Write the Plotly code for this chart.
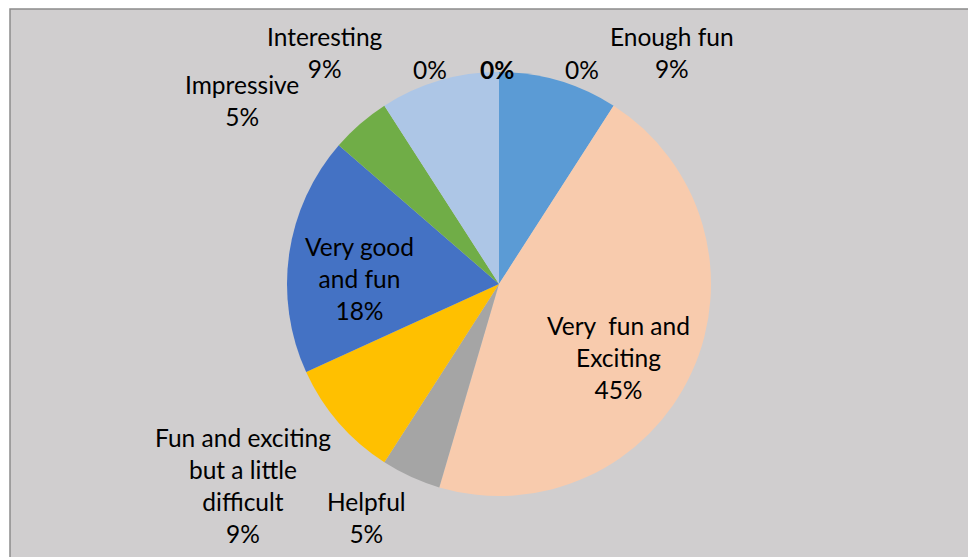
import plotly.graph_objects as go

# ---- data ----
categories = ["Enough fun", "Very fun and Exciting", "Helpful",
              "Fun and exciting but a little difficult", "Very good and fun",
              "Impressive", "Interesting", "Blank A", "Blank B", "Blank C"]
counts = [2, 10, 1, 2, 4, 1, 2, 0, 0, 0]
display_labels = ["Enough fun", "Very\u00a0 fun and<br>Exciting", "Helpful",
                  "Fun and exciting<br>but a little<br>difficult", "Very good<br>and fun",
                  "Impressive", "Interesting", "", "", ""]
colors = ["#5b9bd5", "#f8cbad", "#a5a5a5", "#ffc000", "#4472c4",
          "#70ad47", "#adc6e6", "#5b9bd5", "#f8cbad", "#a5a5a5"]

total = sum(counts)
pcts = [f"{round(100 * c / total)}%" for c in counts]

# page has an 8px body margin; figure sits at (8, 8)
OFF = 8
W, H = 968, 549
FONT = "Lato, Calibri, Carlito, sans-serif"


def px_x(X):
    return (X - OFF) / W


def px_y(Y):
    return 1 - (Y - OFF) / H


fig = go.Figure()
fig.add_trace(go.Pie(
    labels=categories, values=counts, sort=False, direction="clockwise",
    rotation=0, textinfo="none", showlegend=False,
    marker=dict(colors=colors, line=dict(width=0)),
    domain=dict(x=[px_x(287), px_x(711)], y=[px_y(496), px_y(72)]),
))

# label positions (pixel centers in the page)
label_pos = [(672, 53), (618, 357), (366, 517), (243, 485), (359, 278),
             (242, 101), (325, 53), (582, 70), (497, 70), (430, 70)]

annotations = []
for i, (X, Y) in enumerate(label_pos):
    txt = display_labels[i]
    pct = pcts[i]
    if i == 8:
        pct = f"<b>{pct}</b>"
    full = f"{txt}<br>{pct}" if txt else pct
    annotations.append(dict(
        x=px_x(X), y=px_y(Y), xref="paper", yref="paper",
        text=full, showarrow=False, xanchor="center", yanchor="middle",
        align="center", font=dict(family=FONT, size=24.5, color="#000000"),
    ))

fig.update_layout(
    width=W, height=H, margin=dict(l=0, r=0, t=0, b=0),
    paper_bgcolor="#ffffff", plot_bgcolor="#ffffff",
    annotations=annotations,
    shapes=[dict(type="rect", xref="paper", yref="paper",
                 x0=px_x(10), x1=1.01, y0=-0.01, y1=px_y(9),
                 fillcolor="#d0cecf", line=dict(color="#8c8c8c", width=1.5),
                 layer="below")],
)

fig.write_html("out.html")
